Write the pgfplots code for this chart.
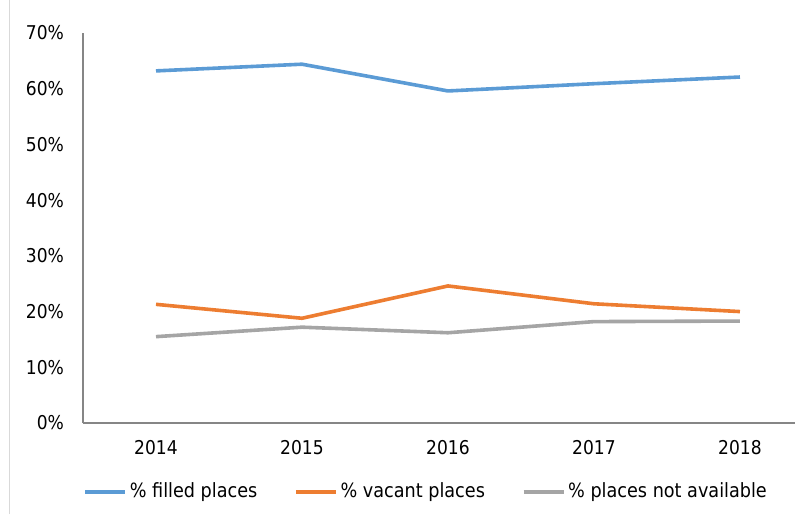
\documentclass[border=0pt]{standalone}
\usepackage{pgfplots}
\pgfplotsset{compat=1.18}
\usepackage{fontspec}
\setmainfont{DejaVu Sans Condensed}

\definecolor{cblue}{HTML}{5B9BD5}
\definecolor{corange}{HTML}{ED7D31}
\definecolor{cgray}{HTML}{A5A5A5}
\definecolor{axgray}{HTML}{868686}

\begin{document}
\begin{tikzpicture}
    \useasboundingbox (-41.5pt,-45.5pt) rectangle (356pt,211.5pt);
    \draw[color=gray!30, line width=0.5pt] (-36.5pt,-45.5pt) -- (-36.5pt,211.5pt);
    \begin{axis}[
        at={(0,0)}, anchor=south west,
        scale only axis,
        width=356pt, height=195pt,
        xmin=-0.5, xmax=4.377,
        ymin=0, ymax=70,
        xtick={0,1,2,3,4},
        xticklabels={2014,2015,2016,2017,2018},
        ytick={0,10,20,30,40,50,60,70},
        yticklabel={\pgfmathprintnumber{\tick}\%},
        axis x line*=bottom,
        axis y line*=left,
        axis line style={color=axgray, line width=0.6pt},
        major tick length=0pt,
        tick label style={font=\fontsize{9.5}{11}\selectfont, black},
        /pgf/number format/assume math mode=true,
        y tick label style={xshift=-6pt},
        x tick label style={yshift=-5pt},
        legend columns=3,
        legend style={
            at={(0.0,-0.177)}, anchor=west,
            draw=none, fill=none,
            inner sep=0pt,
            nodes={inner xsep=1.4pt},
            font=\fontsize{9.8}{11}\selectfont,
            /tikz/every even column/.append style={column sep=17pt},
        },
        legend cell align=left,
        legend image code/.code={\draw[#1] (0pt,0pt) -- (20pt,0pt);},
        every axis plot/.append style={line width=1.8pt, line join=round},
    ]
        \addplot[color=cblue, mark=none] coordinates {
            (0, 63.2) (1, 64.4) (2, 59.6) (3, 60.9) (4, 62.1)
        };
        \addlegendentry{\% filled places}
        \addplot[color=corange, mark=none] coordinates {
            (0, 21.3) (1, 18.8) (2, 24.6) (3, 21.4) (4, 20.0)
        };
        \addlegendentry{\% vacant places}
        \addplot[color=cgray, mark=none] coordinates {
            (0, 15.5) (1, 17.2) (2, 16.2) (3, 18.2) (4, 18.3)
        };
        \addlegendentry{\% places not available}
    \end{axis}
\end{tikzpicture}
\end{document}
